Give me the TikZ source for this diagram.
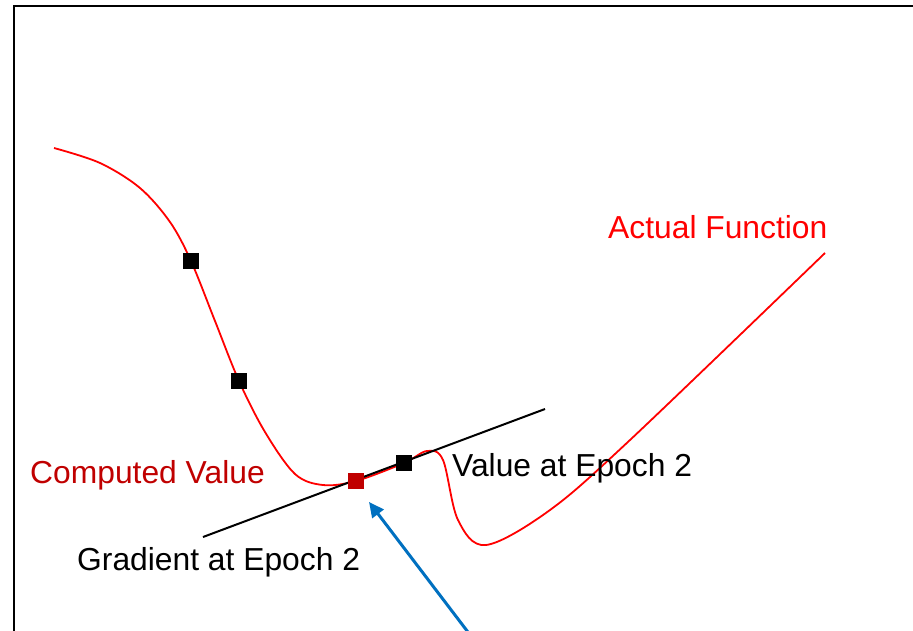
\documentclass[tikz,border=0pt]{standalone}
\usepackage{fontspec}
\setmainfont{Liberation Sans}
\usepackage{tikz}
\usetikzlibrary{arrows.meta}
\definecolor{fnred}{HTML}{FF0000}
\definecolor{compred}{HTML}{C00000}
\definecolor{ptrblue}{HTML}{0070C0}

\begin{document}
\begin{tikzpicture}[x=1pt,y=-1pt,
  lbl/.style={font=\fontsize{31.8}{36}\selectfont,inner sep=0pt,anchor=base west},
  sqr/.style={fill=black,minimum size=16pt,inner sep=0pt},
  fnline/.style={fnred,line width=1.8pt},
  ptr/.style={-{Triangle[length=15pt,width=14pt]},ptrblue,line width=3pt}]
  \useasboundingbox (0,0) rectangle (913,630);
  \clip (0,0) rectangle (913,630);
  % frame, runs off the right and bottom edges
  \draw[line width=2pt] (14,660) |- (940,6);
  % actual function
  \draw[fnline] plot[smooth,tension=0.55] coordinates {(54,148) (100,163) (140,188) (170,222) (191,261) (215,321) (239,381) (265,432) (295,474) (323,485) (356,481) (404,463) (427,451) (443,460) (458,520) (486,545) (550,510) (630,440) (825,253)};
  % gradient
  \coordinate (g0) at (203,537);
  \coordinate (g1) at (545,409);
  \draw[line width=2pt] (g0) -- (g1);
  \node[sqr] (e0) at (191,261) {};
  \node[sqr] (e1) at (239,381) {};
  \node[sqr,fill=compred] (cv) at (356,481) {};
  \node[sqr] (e2) at (404,463) {};
  \node[lbl,text=fnred] (fn) at (608,238) {Actual Function};
  \node[lbl,text=compred] (comp) at (30,483) {Computed Value};
  \node[lbl] (val) at (452,476) {Value at Epoch 2};
  \node[lbl] (grad) at (77,570) {Gradient at Epoch 2};
  \coordinate (tail) at (474,640);
  \draw[ptr] (tail) -- ([shift={(13,21)}]cv.center);
\end{tikzpicture}
\end{document}
